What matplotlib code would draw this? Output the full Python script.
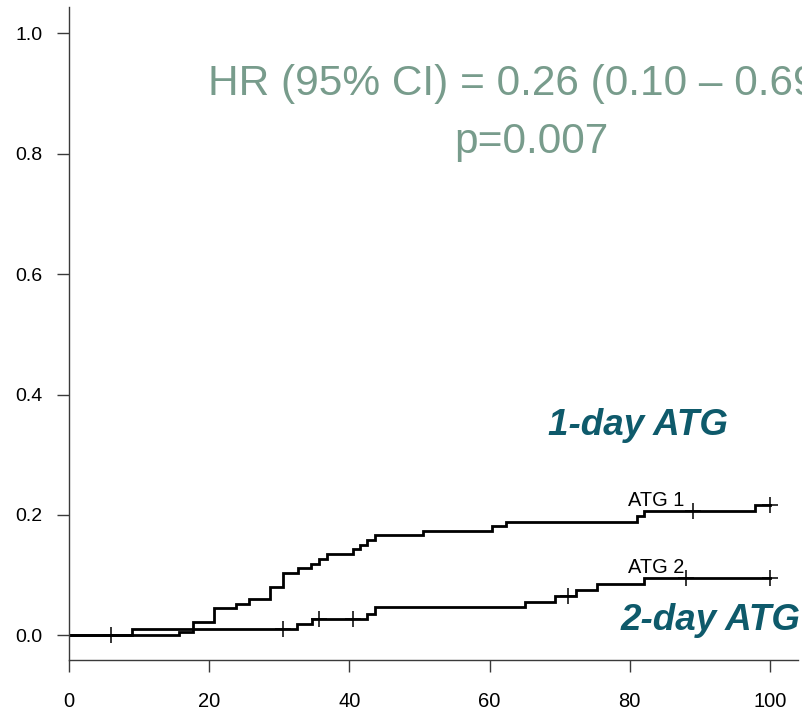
import numpy as np
import matplotlib
matplotlib.use("Agg")
import matplotlib.pyplot as plt

plt.rcParams['font.family'] = ['Liberation Sans', 'DejaVu Sans']

# Cumulative incidence step data (time in days, cumulative proportion)
atg1_times = [15.7, 17.7, 20.7, 23.75, 25.7, 28.6, 30.5, 32.6, 34.5, 35.7, 36.75,
              40.55, 41.5, 42.55, 43.65, 50.55, 60.3, 62.3, 81.1, 82.05, 97.9]
atg1_values = [0.006, 0.022, 0.045, 0.052, 0.060, 0.081, 0.104, 0.111, 0.118, 0.127,
               0.135, 0.143, 0.150, 0.158, 0.166, 0.173, 0.182, 0.189, 0.198, 0.207, 0.216]
atg1_censor = [6.0, 89.1, 100.0]

atg2_times = [8.9, 32.55, 34.6, 42.55, 43.65, 65.06, 69.35, 72.35, 75.3, 82.05]
atg2_values = [0.010, 0.019, 0.027, 0.035, 0.047, 0.056, 0.066, 0.075, 0.085, 0.095]
atg2_censor = [30.55, 35.7, 40.55, 71.25, 88.05, 100.0]

follow_up_end = 100.0

x_ticks = [0, 20, 40, 60, 80, 100]
y_ticks = [0.0, 0.2, 0.4, 0.6, 0.8, 1.0]
y_tick_labels = ["0.0", "0.2", "0.4", "0.6", "0.8", "1.0"]

W, H = 802, 713
fig = plt.figure(figsize=(W / 100, H / 100), dpi=100)
ax = fig.add_axes([69.3 / W, (H - 660.3) / H, (798 - 69.3) / W, (660.3 - 7) / H])

axis_color = "#3a3a3a"


def step_curve(times, values, end):
    xs = np.concatenate([[0.0], times, [end]])
    ys = np.concatenate([[0.0], values, [values[-1]]])
    return xs, ys


def value_at(times, values, t):
    idx = np.searchsorted(times, t, side="right") - 1
    return 0.0 if idx < 0 else values[idx]


for times, values, censor in [(atg1_times, atg1_values, atg1_censor),
                              (atg2_times, atg2_values, atg2_censor)]:
    xs, ys = step_curve(times, values, follow_up_end)
    ax.step(xs, ys, where="post", color="black", lw=2.0, solid_joinstyle="miter")
    cy = [value_at(times, values, t) for t in censor]
    ax.plot(censor, cy, linestyle="none", marker="+", color="black",
            markersize=11, markeredgewidth=1.1)

ax.set_xlim(0, 104.04)
ax.set_ylim(-0.0415, 1.0437)

for side in ["top", "right"]:
    ax.spines[side].set_visible(False)
for side in ["left", "bottom"]:
    ax.spines[side].set_color(axis_color)
    ax.spines[side].set_linewidth(1.0)

ax.set_xticks(x_ticks)
ax.set_xticklabels([str(v) for v in x_ticks])
ax.set_yticks(y_ticks)
ax.set_yticklabels(y_tick_labels)
ax.tick_params(axis="x", length=8.6, width=1.0, color=axis_color, pad=14.5,
               labelsize=14.5, labelcolor="black")
ax.tick_params(axis="y", length=8.6, width=1.0, color=axis_color, pad=10.5,
               labelsize=14, labelcolor="black")

# Curve labels
fig.text(628 / W, 1 - 506 / H, "ATG 1", fontsize=14.4, color="black",
         ha="left", va="baseline")
fig.text(628 / W, 1 - 573 / H, "ATG 2", fontsize=14.4, color="black",
         ha="left", va="baseline")

teal = "#0E5A6B"
fig.text(548 / W, 1 - 435 / H, "1-day ATG", fontsize=26.5, color=teal,
         fontweight="bold", fontstyle="italic", ha="left", va="baseline")
fig.text(621 / W, 1 - 630 / H, "2-day ATG", fontsize=26.5, color=teal,
         fontweight="bold", fontstyle="italic", ha="left", va="baseline")
fig.text(312 / W, 1 - 742 / H, "Days Post-Transplant", fontsize=26.5, color=teal,
         fontweight="bold", fontstyle="italic", ha="left", va="baseline")

grey_green = "#789C8C"
fig.text(208 / W, 1 - 95 / H, "HR (95% CI) = 0.26 (0.10 \u2013 0.69)", fontsize=30.5,
         color=grey_green, ha="left", va="baseline")
fig.text(531 / W, 1 - 153 / H, "p=0.007", fontsize=30.5, color=grey_green,
         ha="center", va="baseline")

fig.savefig("out.png", dpi=100)
